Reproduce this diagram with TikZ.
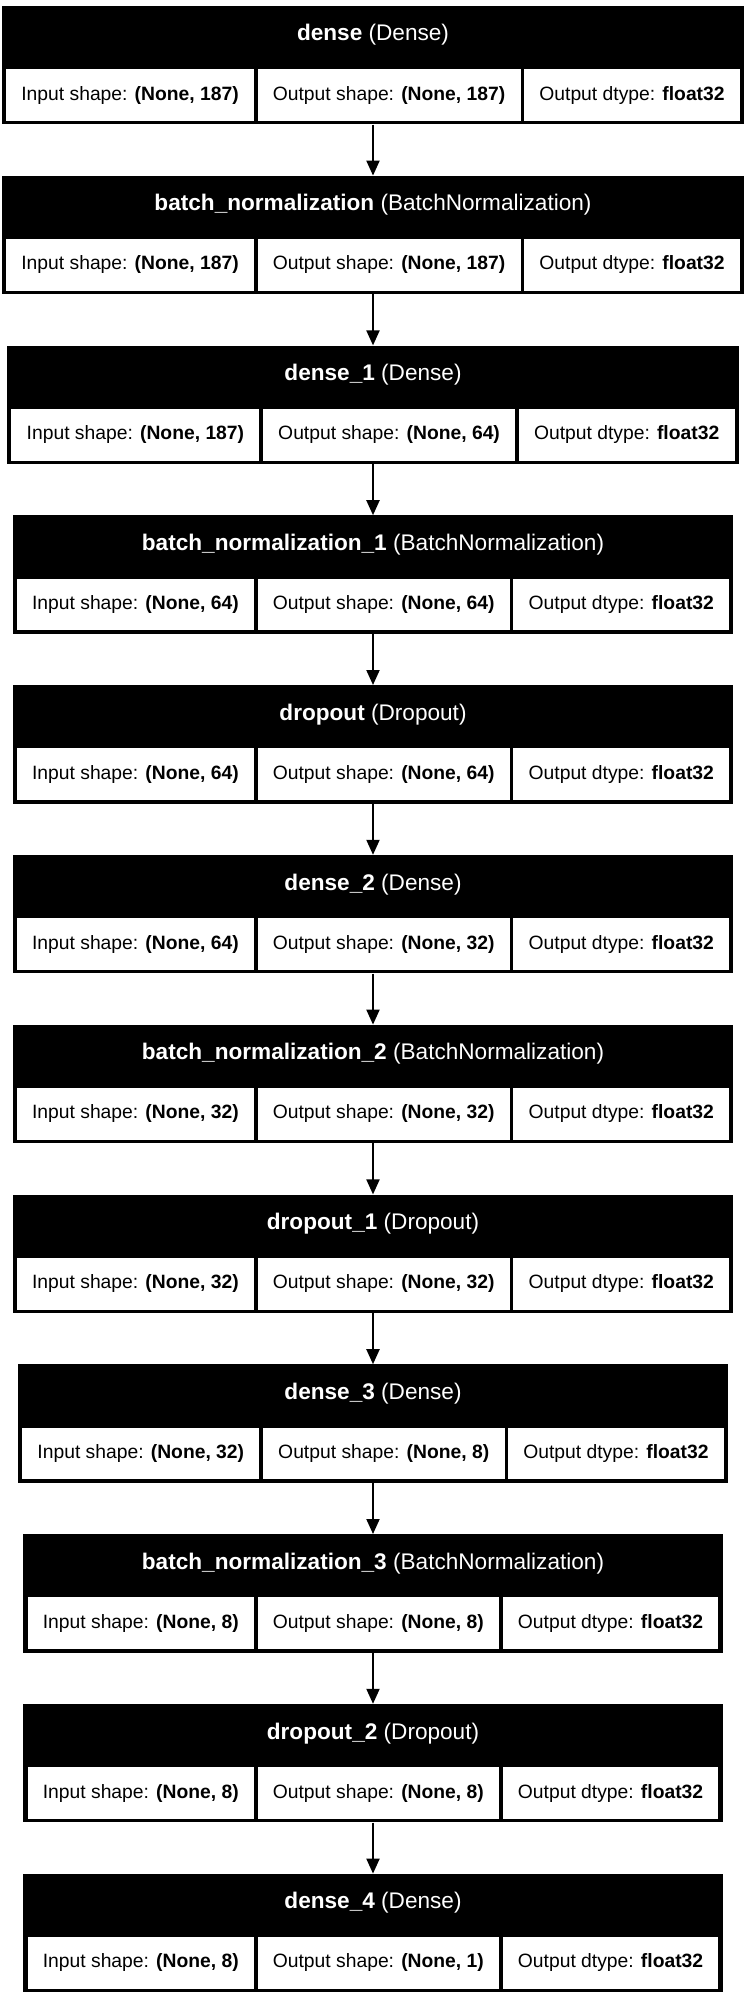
\documentclass[tikz,border=0pt]{standalone}
\usepackage{fontspec}
\setmainfont{Liberation Sans}
\usetikzlibrary{matrix,fit,backgrounds,arrows.meta}

\tikzset{
  cell/.style={fill=white, inner xsep=15.3pt, inner ysep=0pt,
    minimum height=51.7pt, text height=14pt, text depth=4pt,
    font=\fontsize{19.3}{22}\selectfont},
  cellrow/.style={matrix of nodes, ampersand replacement=\&,
    column sep=3.5pt, inner sep=0pt, anchor=north, nodes={cell}},
  headtext/.style={text=white, anchor=base, inner sep=0pt,
    font=\fontsize{22.6}{26}\selectfont},
  layerbox/.style={fill=black, inner sep=0pt},
  flow/.style={line width=2pt, -{Triangle[length=15pt,width=13pt]}},
}

% #1 name, #2 top edge, #3 title, #4-#6 the three info cells
\newcommand\layerblock[6]{%
  \matrix[cellrow] (#1m) at (373,#2+63) {#4 \& #5 \& #6 \\};
  \node[headtext] (#1h) at ([yshift=28pt]#1m.north) {#3};
  \coordinate (#1sw) at ([xshift=-4pt,yshift=-3.3pt]#1m.south west);
  \coordinate (#1ne) at ([xshift=4pt,yshift=63pt]#1m.north east);
  \begin{scope}[on background layer]
    \node[layerbox, fit={(#1sw) (#1ne)}] (#1) {};
  \end{scope}
}

\begin{document}
\begin{tikzpicture}[x=1pt,y=-1pt]
  \useasboundingbox (0,0) rectangle (746,1999);
  \begin{scope}[on background layer]
    \fill[white] (0,0) rectangle (746,1999);
  \end{scope}

  \layerblock{l1}{6}{\textbf{dense} (Dense)}
    {Input shape: \textbf{(None, 187)}}{Output shape: \textbf{(None, 187)}}{Output dtype: \textbf{float32}}
  \layerblock{l2}{175.8}{\textbf{batch\_normalization} (BatchNormalization)}
    {Input shape: \textbf{(None, 187)}}{Output shape: \textbf{(None, 187)}}{Output dtype: \textbf{float32}}
  \layerblock{l3}{345.6}{\textbf{dense\_1} (Dense)}
    {Input shape: \textbf{(None, 187)}}{Output shape: \textbf{(None, 64)}}{Output dtype: \textbf{float32}}
  \layerblock{l4}{515.4}{\textbf{batch\_normalization\_1} (BatchNormalization)}
    {Input shape: \textbf{(None, 64)}}{Output shape: \textbf{(None, 64)}}{Output dtype: \textbf{float32}}
  \layerblock{l5}{685.2}{\textbf{dropout} (Dropout)}
    {Input shape: \textbf{(None, 64)}}{Output shape: \textbf{(None, 64)}}{Output dtype: \textbf{float32}}
  \layerblock{l6}{855}{\textbf{dense\_2} (Dense)}
    {Input shape: \textbf{(None, 64)}}{Output shape: \textbf{(None, 32)}}{Output dtype: \textbf{float32}}
  \layerblock{l7}{1024.8}{\textbf{batch\_normalization\_2} (BatchNormalization)}
    {Input shape: \textbf{(None, 32)}}{Output shape: \textbf{(None, 32)}}{Output dtype: \textbf{float32}}
  \layerblock{l8}{1194.6}{\textbf{dropout\_1} (Dropout)}
    {Input shape: \textbf{(None, 32)}}{Output shape: \textbf{(None, 32)}}{Output dtype: \textbf{float32}}
  \layerblock{l9}{1364.4}{\textbf{dense\_3} (Dense)}
    {Input shape: \textbf{(None, 32)}}{Output shape: \textbf{(None, 8)}}{Output dtype: \textbf{float32}}
  \layerblock{l10}{1534.2}{\textbf{batch\_normalization\_3} (BatchNormalization)}
    {Input shape: \textbf{(None, 8)}}{Output shape: \textbf{(None, 8)}}{Output dtype: \textbf{float32}}
  \layerblock{l11}{1704}{\textbf{dropout\_2} (Dropout)}
    {Input shape: \textbf{(None, 8)}}{Output shape: \textbf{(None, 8)}}{Output dtype: \textbf{float32}}
  \layerblock{l12}{1873.8}{\textbf{dense\_4} (Dense)}
    {Input shape: \textbf{(None, 8)}}{Output shape: \textbf{(None, 1)}}{Output dtype: \textbf{float32}}

  \foreach \a/\b in {l1/l2,l2/l3,l3/l4,l4/l5,l5/l6,l6/l7,l7/l8,l8/l9,l9/l10,l10/l11,l11/l12}
    \draw[flow] (\a.south) -- (\b.north);
\end{tikzpicture}
\end{document}
